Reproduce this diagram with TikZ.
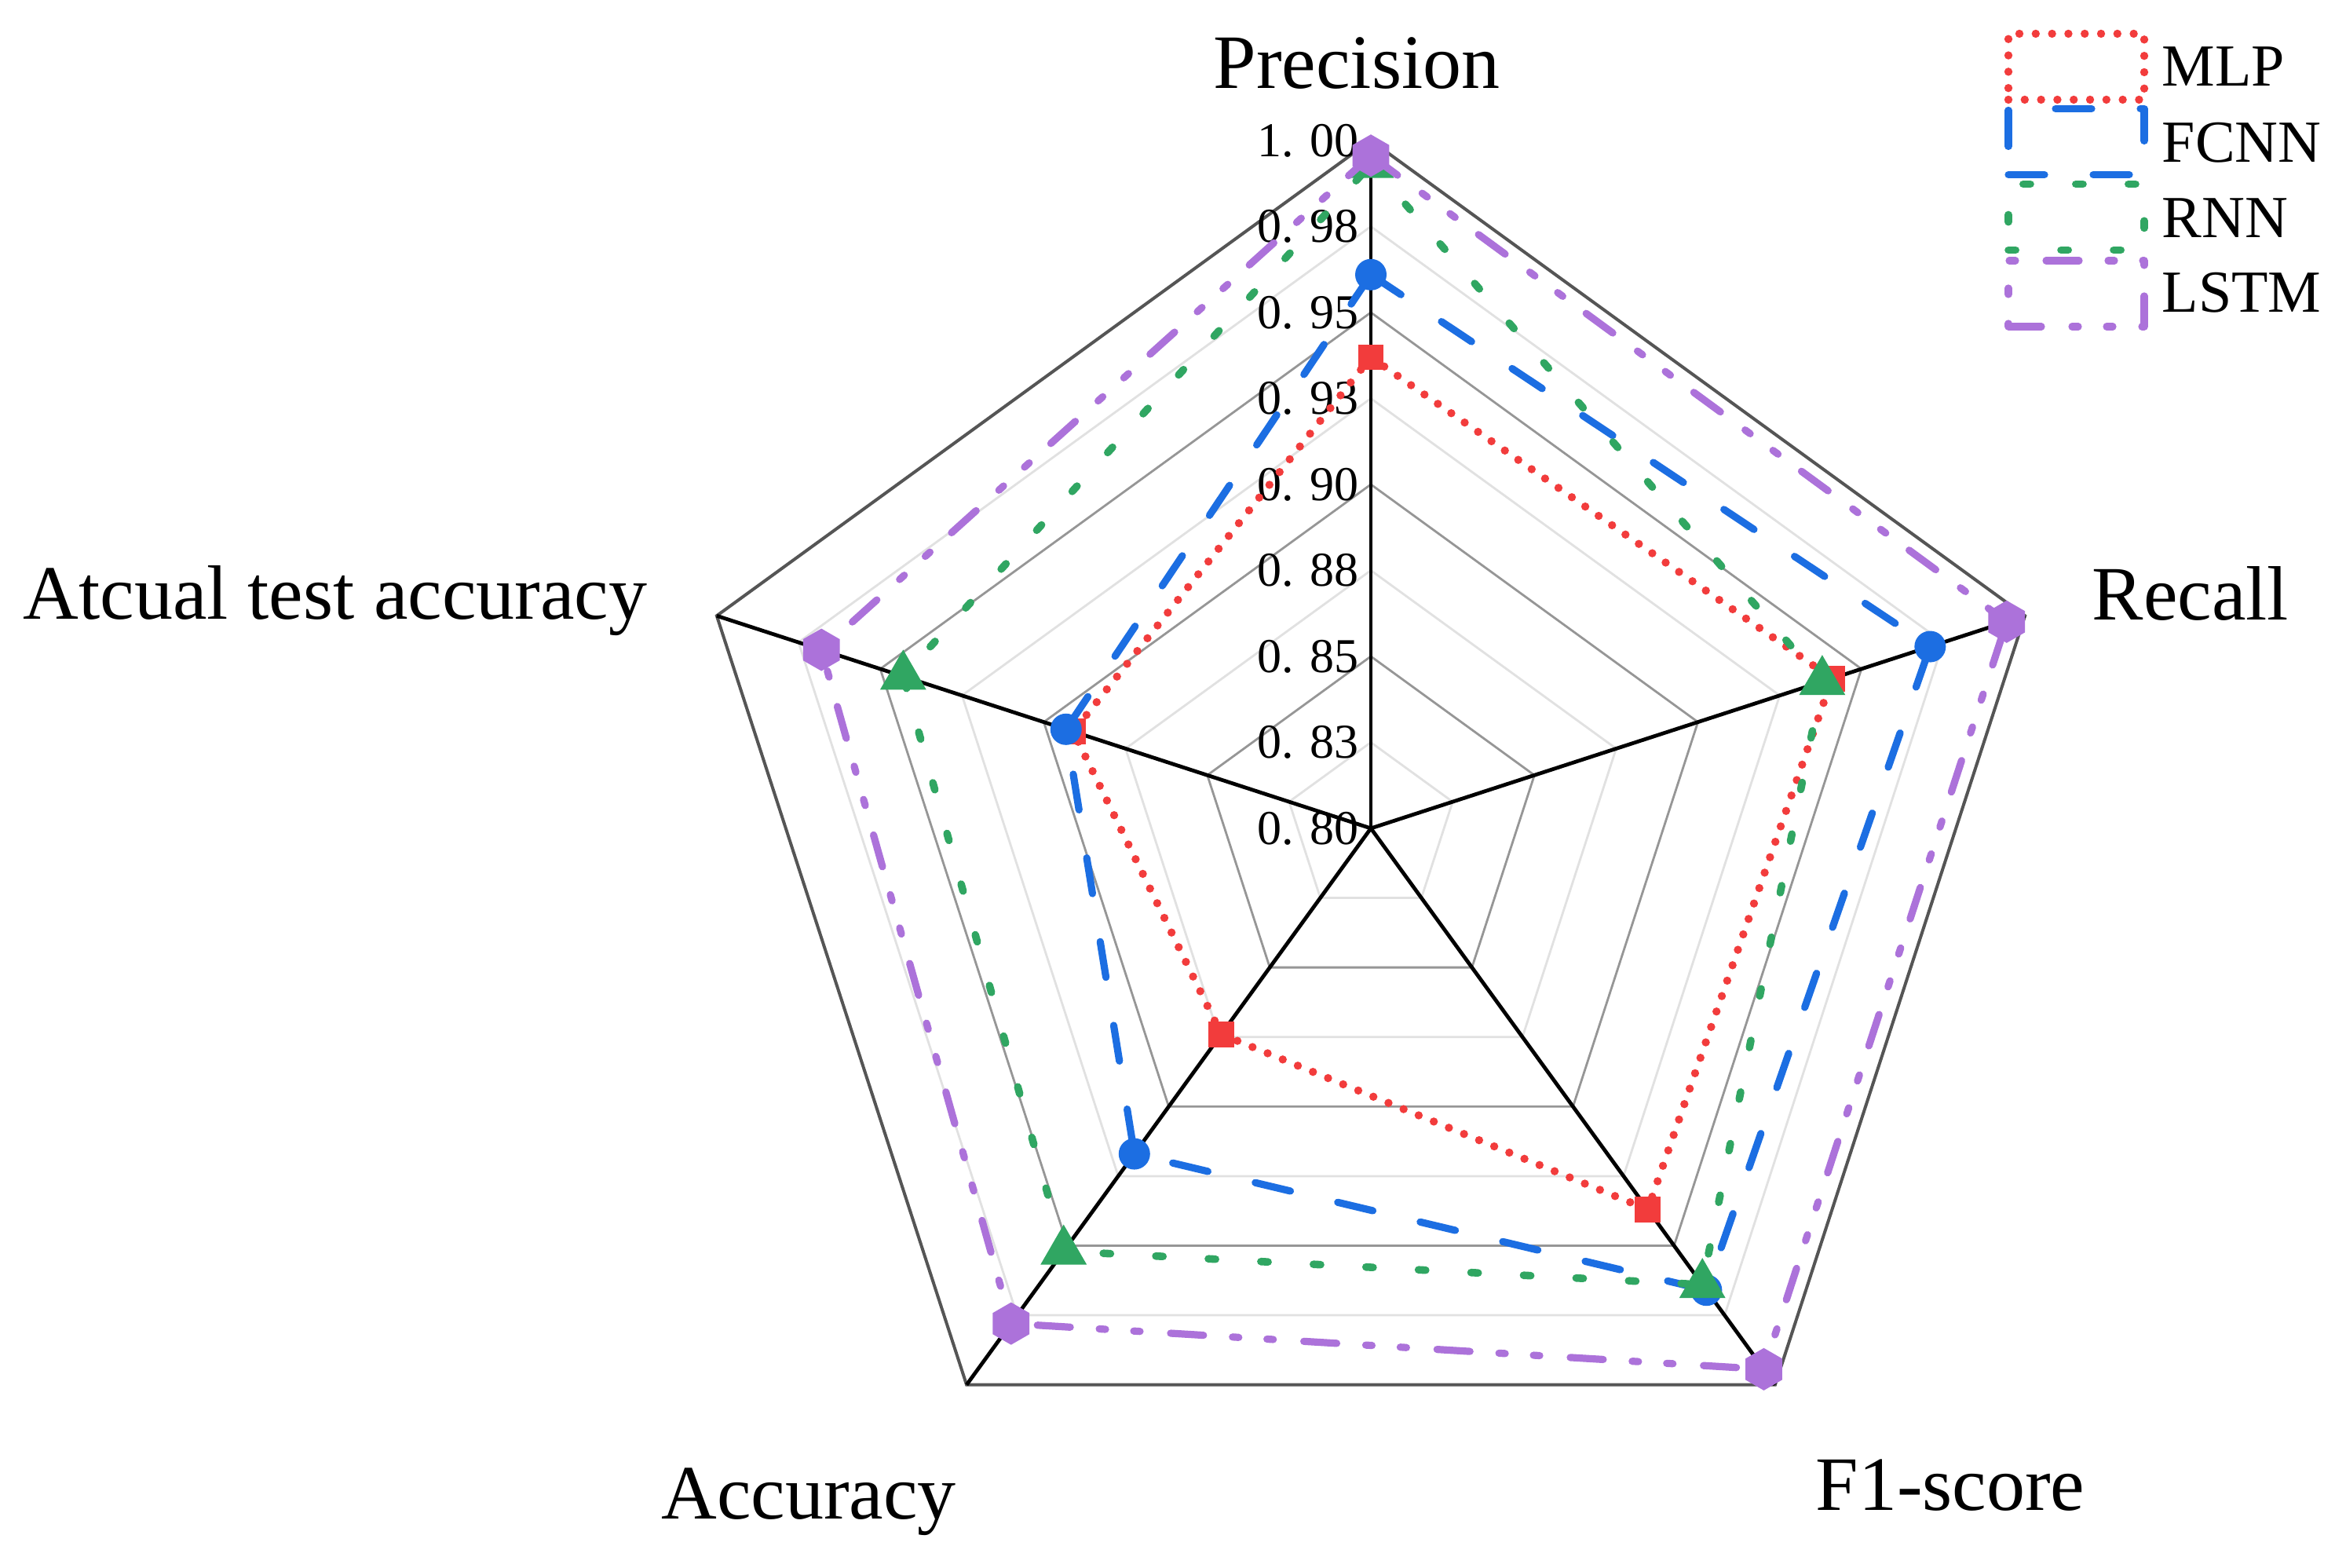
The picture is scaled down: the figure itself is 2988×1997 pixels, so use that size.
\documentclass[tikz,border=0pt]{standalone}
\usepackage{fontspec}
\setmainfont{Liberation Serif}
\usetikzlibrary{shapes.geometric,calc}
\definecolor{cMLP}{RGB}{242,60,60}
\definecolor{cFCNN}{RGB}{28,110,226}
\definecolor{cRNN}{RGB}{48,166,98}
\definecolor{cLSTM}{RGB}{172,114,218}
\definecolor{gmajor}{RGB}{150,150,150}
\definecolor{gminor}{RGB}{225,225,225}
\definecolor{gouter}{RGB}{85,85,85}
\begin{document}
\begin{tikzpicture}[x=0.25pt,y=0.25pt,
  mlpline/.style={draw=cMLP,line width=2.6pt,line cap=round,line join=round,dash pattern=on 0pt off 5.2pt},
  fcnnline/.style={draw=cFCNN,line width=2.3pt,line cap=round,line join=round,dash pattern=on 11.5pt off 15.5pt},
  rnnline/.style={draw=cRNN,line width=2.4pt,line cap=round,line join=round,dash pattern=on 2.3pt off 14.45pt},
  lstmline/.style={draw=cLSTM,line width=2.3pt,line cap=round,line join=round,dash pattern=on 10.5pt off 9.75pt on 2pt off 9pt on 2pt off 9.25pt},
  sqm/.style={rectangle,fill=cMLP,minimum size=8.2pt,inner sep=0pt},
  cim/.style={circle,fill=cFCNN,minimum size=10pt,inner sep=0pt},
  trm/.style={regular polygon,regular polygon sides=3,fill=cRNN,minimum size=17pt,inner sep=0pt},
  hxm/.style={regular polygon,regular polygon sides=6,fill=cLSTM,minimum size=13.5pt,inner sep=0pt,shape border rotate=30},
  axlabel/.style={inner sep=0pt,font=\fontsize{24.5}{29}\selectfont},
  ticklabel/.style={inner sep=0pt,anchor=east,font=\fontsize{15.5}{18}\selectfont},
  leglabel/.style={inner sep=0pt,anchor=base west,font=\fontsize{19}{23}\selectfont},
  minorgrid/.style={draw=gminor,line width=0.7pt},
  majorgrid/.style={draw=gmajor,line width=0.7pt},
  outergrid/.style={draw=gouter,line width=1pt,line join=miter},
  spoke/.style={draw=black,line width=1.2pt}
]
\useasboundingbox (0,0) rectangle (2988,1997);
\fill[white] (0,0) rectangle (2988,1997);

\coordinate (C) at (1746,942);
% grid pentagons
\begin{scope}[shift={(1746,942)}]
\foreach \k in {1,3,5,7}{
  \draw[minorgrid] (90:{\k*109.5}) -- (18:{\k*109.5}) -- (-54:{\k*109.5}) -- (-126:{\k*109.5}) -- (162:{\k*109.5}) -- cycle;
}
\foreach \k in {2,4,6}{
  \draw[majorgrid] (90:{\k*109.5}) -- (18:{\k*109.5}) -- (-54:{\k*109.5}) -- (-126:{\k*109.5}) -- (162:{\k*109.5}) -- cycle;
}
\coordinate (vP) at (90:876);
\coordinate (vR) at (18:876);
\coordinate (vF) at (-54:876);
\coordinate (vA) at (-126:876);
\coordinate (vT) at (162:876);
\end{scope}
\draw[outergrid] (vP) -- (vR) -- (vF) -- (vA) -- (vT) -- cycle;
\foreach \v in {vP,vR,vF,vA,vT}{ \draw[spoke] (C) -- (\v); }

% tick labels
\node[ticklabel] (t0) at (1731,{942+0*109.5}) {0. 80};
\node[ticklabel] (t1) at (1731,{942+1*109.5}) {0. 83};
\node[ticklabel] (t2) at (1731,{942+2*109.5}) {0. 85};
\node[ticklabel] (t3) at (1731,{942+3*109.5}) {0. 88};
\node[ticklabel] (t4) at (1731,{942+4*109.5}) {0. 90};
\node[ticklabel] (t5) at (1731,{942+5*109.5}) {0. 93};
\node[ticklabel] (t6) at (1731,{942+6*109.5}) {0. 95};
\node[ticklabel] (t7) at (1731,{942+7*109.5}) {0. 98};
\node[ticklabel] (t8) at (1731,{942+8*109.5}) {1. 00};

% data points (fraction of radius 876)
\begin{scope}[shift={(1746,942)}]
\coordinate (m1) at (90:{0.685*876});
\coordinate (m2) at (18:{0.705*876});
\coordinate (m3) at (-54:{0.685*876});
\coordinate (m4) at (-126:{0.370*876});
\coordinate (m5) at (162:{0.455*876});
\coordinate (f1) at (90:{0.805*876});
\coordinate (f2) at (18:{0.855*876});
\coordinate (f3) at (-54:{0.830*876});
\coordinate (f4) at (-126:{0.585*876});
\coordinate (f5) at (162:{0.466*876});
\coordinate (r1) at (90:{0.965*876});
\coordinate (r2) at (18:{0.690*876});
\coordinate (r3) at (-54:{0.820*876});
\coordinate (r4) at (-126:{0.760*876});
\coordinate (r5) at (162:{0.715*876});
\coordinate (l1) at (90:{0.978*876});
\coordinate (l2) at (18:{0.972*876});
\coordinate (l3) at (-54:{0.972*876});
\coordinate (l4) at (-126:{0.890*876});
\coordinate (l5) at (162:{0.840*876});
\end{scope}

\draw[mlpline] (m1) -- (m2) -- (m3) -- (m4) -- (m5) -- cycle;
\foreach \p in {1,...,5}{ \node[sqm] (mk\p) at (m\p) {}; }
\draw[fcnnline] (f1) -- (f2) -- (f3) -- (f4) -- (f5) -- cycle;
\foreach \p in {1,...,5}{ \node[cim] (fk\p) at (f\p) {}; }
\draw[rnnline] (r1) -- (r2) -- (r3) -- (r4) -- (r5) -- cycle;
\foreach \p in {1,...,5}{ \node[trm] (rk\p) at (r\p) {}; }
\draw[lstmline] (l1) -- (l2) -- (l3) -- (l4) -- (l5) -- cycle;
\foreach \p in {1,...,5}{ \node[hxm] (lk\p) at (l\p) {}; }

% axis labels
\node[axlabel,anchor=base] (labP) at (1728,1884) {Precision};
\node[axlabel,anchor=base west] (labR) at (2664,1207) {Recall};
\node[axlabel,anchor=base] (labF) at (2484,73) {F1-score};
\node[axlabel,anchor=base] (labA) at (1030,62) {Accuracy};
\node[axlabel,anchor=base west] (labT) at (29,1208) {Atcual test accuracy};

% legend
\node[mlpline,minimum width=43.25pt,minimum height=21pt,inner sep=0pt] (legM) at (2644.5,1912) {};
\node[fcnnline,minimum width=43.25pt,minimum height=21pt,inner sep=0pt] (legF) at (2644.5,1816.5) {};
\node[rnnline,minimum width=43.25pt,minimum height=21pt,inner sep=0pt] (legR) at (2644.5,1720.5) {};
\node[lstmline,minimum width=43.25pt,minimum height=21pt,inner sep=0pt] (legL) at (2644.5,1623) {};
\node[leglabel] (txtM) at (2753,1887) {MLP};
\node[leglabel] (txtF) at (2753,1790) {FCNN};
\node[leglabel] (txtR) at (2753,1694) {RNN};
\node[leglabel] (txtL) at (2753,1599) {LSTM};
\end{tikzpicture}
\end{document}
